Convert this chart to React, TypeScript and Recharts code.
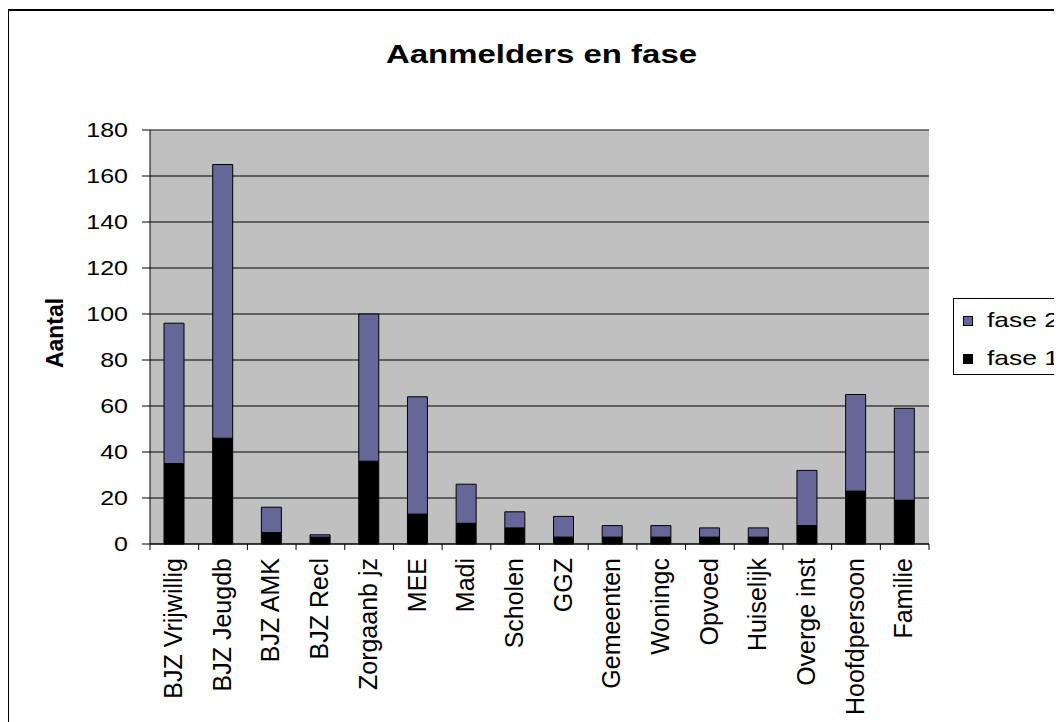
import React from 'react';
import { BarChart, Bar, XAxis, YAxis, CartesianGrid, ReferenceLine } from 'recharts';

const categories = [
  'BJZ Vrijwillig', 'BJZ Jeugdb', 'BJZ AMK', 'BJZ Recl', 'Zorgaanb jz', 'MEE', 'Madi', 'Scholen',
  'GGZ', 'Gemeenten', 'Woningc', 'Opvoed', 'Huiselijk', 'Overge inst', 'Hoofdpersoon', 'Familie',
];
const fase1 = [35, 46, 5, 3, 36, 13, 9, 7, 3, 3, 3, 3, 3, 8, 23, 19];
const fase2 = [61, 119, 11, 1, 64, 51, 17, 7, 9, 5, 5, 4, 4, 24, 42, 40];
const yTicks = [0, 20, 40, 60, 80, 100, 120, 140, 160, 180];
const legendNames = ['fase 2', 'fase 1'];
const chartTitle = 'Aanmelders en fase';
const yAxisTitle = 'Aantal';

const COLOR_F1 = '#000000';
const COLOR_F2 = '#666699';
const FONT = '"Liberation Sans", Arial, Helvetica, sans-serif';

const data = categories.map((c, i) => ({ name: c, fase1: fase1[i], fase2: fase2[i] }));

const CHART_W = 1054;
const CHART_H = 714;
const MARGIN = { top: 122, right: 133, bottom: 8, left: 0 };
const Y_AXIS_W = 142;
const X_AXIS_H = 170;
const PLOT_W = CHART_W - MARGIN.left - MARGIN.right - Y_AXIS_W;
const BAND = PLOT_W / categories.length;

const XTick = (props: any) => {
  const { x, y, payload, index } = props;
  const axisY = y - 8;
  const ly = axisY + 14;
  return (
    <g>
      <line x1={x - BAND / 2} x2={x - BAND / 2} y1={axisY} y2={axisY + 6} stroke="#000" />
      {index === categories.length - 1 && (
        <line x1={x + BAND / 2} x2={x + BAND / 2} y1={axisY} y2={axisY + 6} stroke="#000" />
      )}
      <text
        x={x - 1}
        y={ly}
        transform={`rotate(-90, ${x - 1}, ${ly})`}
        textAnchor="end"
        dy="0.35em"
        fontSize={25}
        fontFamily={FONT}
        fill="#000"
      >
        {payload.value}
      </text>
    </g>
  );
};

const YTick = (props: any) => {
  const { x, y, payload } = props;
  const s = String(payload.value);
  return (
    <text
      x={x}
      y={y}
      textAnchor="end"
      dy="0.355em"
      fontSize={21}
      fontFamily={FONT}
      fill="#000"
      textLength={s.length * 13.9}
      lengthAdjust="spacingAndGlyphs"
    >
      {s}
    </text>
  );
};

const AantalLabel = (props: any) => {
  const vb = props.viewBox || { x: 0, y: MARGIN.top, width: Y_AXIS_W, height: 414 };
  const cx = vb.x + 47;
  const cy = vb.y + vb.height / 2 - 4;
  return (
    <text
      x={cx}
      y={cy}
      transform={`rotate(-90, ${cx}, ${cy})`}
      textAnchor="middle"
      dy="0.35em"
      fontSize={23}
      fontWeight="bold"
      fontFamily={FONT}
      fill="#000"
      textLength={70}
      lengthAdjust="spacingAndGlyphs"
    >
      {yAxisTitle}
    </text>
  );
};

export default function App() {
  const legendColors = [COLOR_F2, COLOR_F1];
  return (
    <div style={{ position: 'relative', width: CHART_W, height: CHART_H, fontFamily: FONT }}>
      <style>{'html,body{overflow:hidden}'}</style>
      <div
        style={{
          position: 'absolute',
          left: -1,
          top: 1,
          width: 1100,
          height: 800,
          border: '2px solid #000',
          boxSizing: 'border-box',
        }}
      />
      <div style={{ position: 'absolute', left: 0, top: 0 }}>
        <BarChart width={CHART_W} height={CHART_H} data={data} margin={MARGIN} barSize={20}>
          <CartesianGrid vertical={false} stroke="#000" fill="#c0c0c0" fillOpacity={1} />
          <XAxis
            dataKey="name"
            interval={0}
            height={X_AXIS_H}
            tickLine={false}
            tickSize={6}
            tickMargin={2}
            axisLine={{ stroke: '#000' }}
            tick={<XTick />}
          />
          <YAxis
            domain={[0, 180]}
            ticks={yTicks}
            width={Y_AXIS_W}
            tickSize={8}
            tickMargin={14}
            axisLine={{ stroke: '#000' }}
            tickLine={{ stroke: '#000' }}
            tick={<YTick />}
            label={<AantalLabel />}
          />
          <YAxis
            yAxisId="right"
            orientation="right"
            domain={[0, 180]}
            width={0}
            tick={false}
            tickLine={false}
            axisLine={{ stroke: '#808080' }}
          />
          <ReferenceLine y={180} stroke="#808080" />
          <Bar dataKey="fase1" stackId="a" fill={COLOR_F1} stroke="#000" strokeWidth={1} isAnimationActive={false} />
          <Bar dataKey="fase2" stackId="a" fill={COLOR_F2} stroke="#000" strokeWidth={1} isAnimationActive={false} />
        </BarChart>
      </div>
      <svg
        width={CHART_W}
        height={CHART_H}
        style={{ position: 'absolute', left: 0, top: 0, pointerEvents: 'none', overflow: 'visible' }}
      >
        <text
          x={533.5}
          y={55}
          textAnchor="middle"
          fontSize={25}
          fontWeight="bold"
          fontFamily={FONT}
          fill="#000"
          textLength={311}
          lengthAdjust="spacingAndGlyphs"
        >
          {chartTitle}
        </text>
        <g transform="translate(945, 290)">
          <rect x={0.5} y={0.5} width={140} height={76} fill="#fff" stroke="#000" strokeWidth={1} />
          {legendNames.map((n, i) => (
            <g key={n} transform={`translate(0, ${i * 38})`}>
              <rect x={10.5} y={18.5} width={9} height={9} fill={legendColors[i]} stroke="#000" strokeWidth={1} />
              <text
                x={34}
                y={28.5}
                fontSize={21}
                fontFamily={FONT}
                fill="#000"
                textLength={72}
                lengthAdjust="spacingAndGlyphs"
              >
                {n}
              </text>
            </g>
          ))}
        </g>
      </svg>
    </div>
  );
}
